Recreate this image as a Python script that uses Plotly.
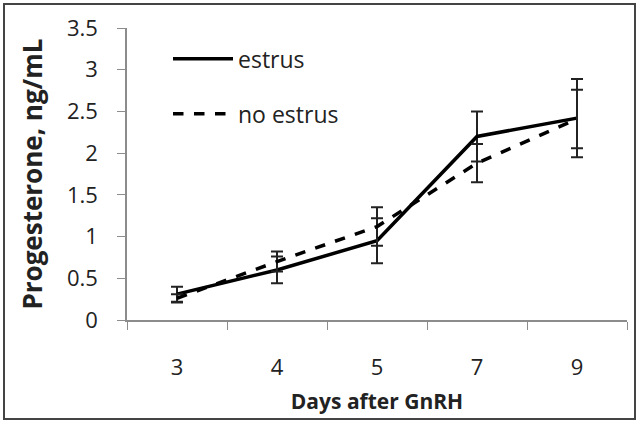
import plotly.graph_objects as go

days = ["3", "4", "5", "7", "9"]
estrus = [0.31, 0.60, 0.95, 2.20, 2.42]
estrus_err = [0.09, 0.16, 0.27, 0.30, 0.47]
no_estrus = [0.26, 0.70, 1.12, 1.88, 2.41]
no_estrus_err = [0.05, 0.12, 0.23, 0.23, 0.35]

W, H = 639, 423
L, R, T, B = 127, 12, 28, 103
pw, ph = W - L - R, H - T - B

fig = go.Figure()
fig.add_trace(go.Scatter(
    x=days, y=estrus, name="estrus", mode="lines", legendgroup="a",
    line=dict(color="black", width=3.5),
    error_y=dict(type="data", array=estrus_err, visible=True, color="#222", thickness=2, width=6),
))
fig.add_trace(go.Scatter(
    x=days, y=no_estrus, name="no estrus", mode="lines", legendgroup="b",
    line=dict(color="black", width=3.5, dash="dash"),
    error_y=dict(type="data", array=no_estrus_err, visible=True, color="#222", thickness=2, width=6),
))

font = "Open Sans, Noto Sans, sans-serif"
fig.update_layout(
    width=W, height=H,
    margin=dict(l=L, r=R, t=T, b=B, pad=0, autoexpand=False),
    paper_bgcolor="white", plot_bgcolor="white",
    font=dict(family=font, color="#222", size=18),
    showlegend=True,
    legend=dict(x=0.082, y=0.968, xanchor="left", yanchor="top",
                bgcolor="rgba(0,0,0,0)", font=dict(size=23, color="#222"),
                tracegroupgap=22, itemwidth=60),
    xaxis=dict(
        type="category", range=[-0.5, 4.5], showline=True, linecolor="#8c8c8c", linewidth=1.5,
        ticks="outside", tickcolor="#8c8c8c", ticklen=8, tickson="boundaries",
        showgrid=False, zeroline=False, ticklabelstandoff=27, automargin=False,
        tickfont=dict(size=22, color="#222"),
        title=dict(text="<b>Days after GnRH</b>", font=dict(size=21, color="#222"), standoff=14),
    ),
    yaxis=dict(
        range=[0, 3.5], dtick=0.5, showline=True, linecolor="#8c8c8c", linewidth=1.5,
        ticks="outside", tickcolor="#8c8c8c", ticklen=8, showgrid=False, zeroline=False,
        tickfont=dict(size=22, color="#222"), ticklabelstandoff=15, automargin=False,
        title=dict(text="<b>Progesterone, ng/mL</b>", font=dict(size=26, color="#222"), standoff=17),
    ),
)

fig.add_shape(type="rect", xref="paper", yref="paper",
              x0=(4 - L) / pw, x1=(635 - L) / pw,
              y0=(H - B - 419) / ph, y1=(H - B - 4) / ph,
              line=dict(color="#444", width=2), fillcolor="rgba(0,0,0,0)", layer="below")

fig.write_html("out.html", config={"displayModeBar": False},
               post_script="document.body.style.margin='0';document.body.style.padding='0';")
